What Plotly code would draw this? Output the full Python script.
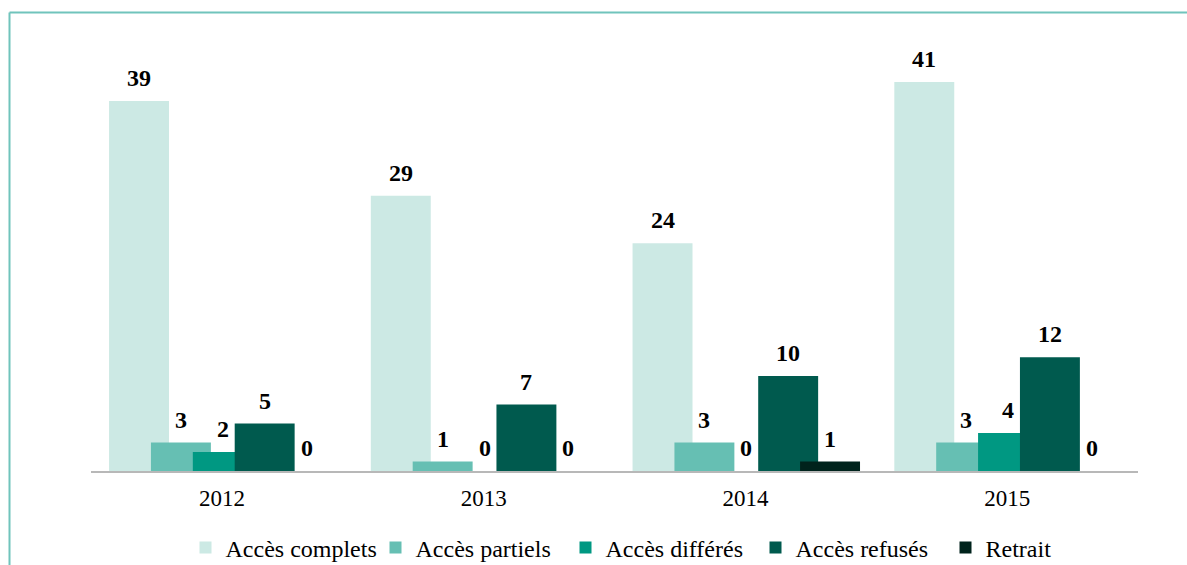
import plotly.graph_objects as go

years = ["2012", "2013", "2014", "2015"]
series_names = ["Accès complets", "Accès partiels", "Accès différés", "Accès refusés", "Retrait"]
complets = [39, 29, 24, 41]
partiels = [3, 1, 3, 3]
differes = [2, 0, 0, 4]
refuses = [5, 7, 10, 12]
retrait = [0, 0, 1, 0]
colors = ["#cce9e4", "#66bfb3", "#009882", "#005a4e", "#00231c"]

values = [complets, partiels, differes, refuses, retrait]

FONT = "Liberation Serif, Times New Roman, serif"
W, H = 1187, 565
ml, mr, mt, mb = 91, 49, 44, 94
pw, ph = W - ml - mr, H - mt - mb
ymax = 45

bar_w = 0.229
step = 0.16
start = -0.431

x_idx = list(range(len(years)))
fig = go.Figure()
annotations = []
for i, (name, vals, col) in enumerate(zip(series_names, values, colors)):
    off = start + i * step
    fig.add_trace(go.Bar(
        x=x_idx, y=vals, name=name, marker=dict(color=col, line=dict(width=0)),
        width=bar_w, offset=off,
    ))
    for xi, v in zip(x_idx, vals):
        annotations.append(dict(
            x=xi + off + bar_w / 2, y=v, xref="x", yref="y", text=f"<b>{v}</b>",
            showarrow=False, yanchor="bottom", yshift=8,
            font=dict(family=FONT, size=24, color="#000000"),
        ))

# frame lines
fx0 = (9.5 - ml) / pw
fx1 = (W + 5 - ml) / pw
fy_top = (H - mb - 12.5) / ph
fy_bot = (H - mb - (H + 5)) / ph
shapes = [
    dict(type="line", xref="paper", yref="paper", x0=fx0, x1=fx1, y0=fy_top, y1=fy_top,
         line=dict(color="#70c4bc", width=2)),
    dict(type="line", xref="paper", yref="paper", x0=fx0, x1=fx0, y0=fy_top, y1=fy_bot,
         line=dict(color="#70c4bc", width=2)),
]

fig.update_layout(
    width=W, height=H,
    margin=dict(l=ml, r=mr, t=mt, b=mb, autoexpand=False),
    barmode="overlay",
    plot_bgcolor="white", paper_bgcolor="white",
    font=dict(family=FONT, size=23, color="#000000"),
    xaxis=dict(range=[-0.5, 3.5], tickvals=x_idx, ticktext=years, showgrid=False,
               zeroline=False, showline=True, linecolor="#b8b8b8", linewidth=2,
               ticks="", ticklabelstandoff=5, tickfont=dict(family=FONT, size=23)),
    yaxis=dict(range=[0, ymax], visible=False, showgrid=False, zeroline=False),
    legend=dict(orientation="h", x=(185.5 - ml) / pw, xanchor="left",
                y=(H - mb - 548) / ph, yanchor="middle",
                font=dict(family=FONT, size=24), traceorder="normal", itemwidth=30,
                entrywidth=145, entrywidthmode="pixels"),
    showlegend=True,
    annotations=annotations,
    shapes=shapes,
)

fig.write_html("out.html", config={"displayModeBar": False},
               post_script="document.body.style.margin='0';")
